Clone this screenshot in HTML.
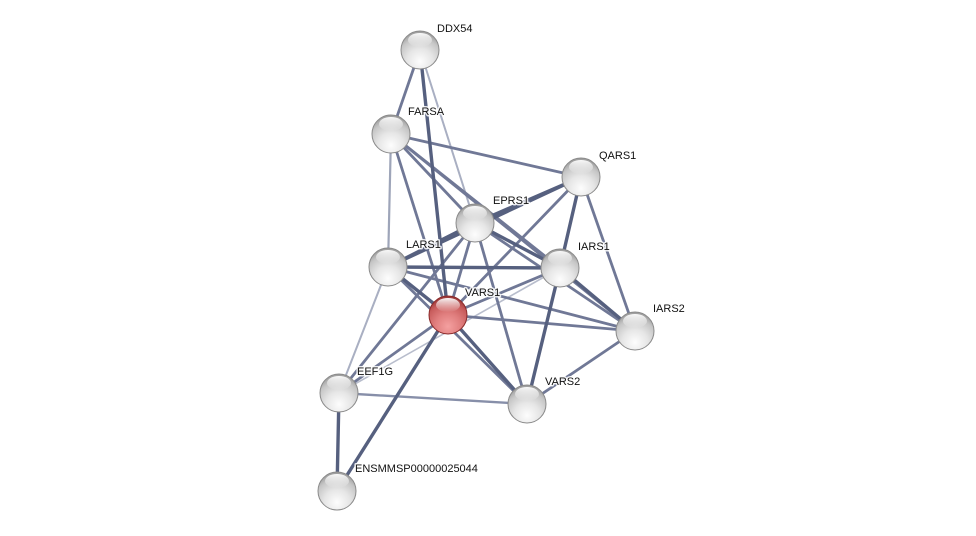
<!DOCTYPE html>
<html><head><meta charset="utf-8"><style>
html,body{margin:0;padding:0;background:#fff;width:976px;height:536px;overflow:hidden}
svg{display:block}
text{font-family:"Liberation Sans",Arial,sans-serif;font-size:11px;fill:#111;paint-order:stroke;stroke:#fff;stroke-width:3px;stroke-opacity:.85;stroke-linejoin:round}
</style></head><body>
<svg width="976" height="536" viewBox="0 0 976 536" xmlns="http://www.w3.org/2000/svg">
<defs>
<radialGradient id="g" cx="50%" cy="80%" r="75%">
<stop offset="0" stop-color="#fdfdfd"/><stop offset="0.45" stop-color="#e6e6e6"/><stop offset="0.8" stop-color="#c6c6c6"/><stop offset="1" stop-color="#a0a0a0"/>
</radialGradient>
<radialGradient id="r" cx="50%" cy="80%" r="75%">
<stop offset="0" stop-color="#f4a0a0"/><stop offset="0.45" stop-color="#e07e7e"/><stop offset="0.8" stop-color="#c85c5c"/><stop offset="1" stop-color="#a03c3c"/>
</radialGradient>
<linearGradient id="h" x1="0" y1="0" x2="0" y2="1">
<stop offset="0" stop-color="#fff" stop-opacity="0.95"/><stop offset="1" stop-color="#fff" stop-opacity="0"/>
</linearGradient>
</defs>
<g stroke-linecap="round">
<g stroke="#a9afc2" stroke-width="2">
<line x1="420" y1="50" x2="475" y2="223"/>
<line x1="388" y1="267" x2="339" y2="393"/>
<line x1="560" y1="268" x2="339" y2="393" stroke="#b8bdcc" stroke-width="1.6"/>
<line x1="391" y1="134" x2="388" y2="267" stroke="#9ea5b9" stroke-width="2.2"/>
</g>
<g stroke="#707896" stroke-width="2.8">
<line x1="420" y1="50" x2="391" y2="134"/>
<line x1="391" y1="134" x2="581" y2="177"/>
<line x1="391" y1="134" x2="448" y2="315"/>
<line x1="391" y1="134" x2="475" y2="223"/>
<line x1="391" y1="134" x2="560" y2="268"/>
<line x1="391" y1="134" x2="635" y2="331"/>
<line x1="581" y1="177" x2="448" y2="315"/>
<line x1="581" y1="177" x2="635" y2="331"/>
<line x1="475" y1="223" x2="448" y2="315"/>
<line x1="475" y1="223" x2="527" y2="404"/>
<line x1="475" y1="223" x2="635" y2="331"/>
<line x1="475" y1="223" x2="339" y2="393"/>
<line x1="560" y1="268" x2="448" y2="315"/>
<line x1="448" y1="315" x2="339" y2="393"/>
<line x1="448" y1="315" x2="635" y2="331"/>
<line x1="388" y1="267" x2="635" y2="331"/>
<line x1="635" y1="331" x2="527" y2="404"/>
<line x1="339" y1="393" x2="527" y2="404" stroke="#878fa9" stroke-width="2.4"/>
<line x1="388" y1="267" x2="527" y2="404"/>
</g>
<g stroke="#56607f" stroke-width="3.4">
<line x1="420" y1="50" x2="448" y2="315"/>
<line x1="581" y1="177" x2="475" y2="223"/>
<line x1="581" y1="177" x2="388" y2="267"/>
<line x1="581" y1="177" x2="560" y2="268"/>
<line x1="388" y1="267" x2="560" y2="268"/>
<line x1="388" y1="267" x2="448" y2="315"/>
<line x1="388" y1="267" x2="475" y2="223"/>
<line x1="475" y1="223" x2="560" y2="268"/>
<line x1="448" y1="315" x2="527" y2="404"/>
<line x1="560" y1="268" x2="527" y2="404"/>
<line x1="560" y1="268" x2="635" y2="331"/>
<line x1="339" y1="393" x2="337" y2="491"/>
<line x1="448" y1="315" x2="337" y2="491"/>
</g>
</g>
<g stroke="#8a8a8a" stroke-width="1">
<circle cx="420" cy="50" r="19" fill="url(#g)"/>
<circle cx="391" cy="134" r="19" fill="url(#g)"/>
<circle cx="581" cy="177" r="19" fill="url(#g)"/>
<circle cx="475" cy="223" r="19" fill="url(#g)"/>
<circle cx="388" cy="267" r="19" fill="url(#g)"/>
<circle cx="560" cy="268" r="19" fill="url(#g)"/>
<circle cx="448" cy="315" r="19" fill="url(#r)" stroke="#8a2a2a"/>
<circle cx="635" cy="331" r="19" fill="url(#g)"/>
<circle cx="339" cy="393" r="19" fill="url(#g)"/>
<circle cx="527" cy="404" r="19" fill="url(#g)"/>
<circle cx="337" cy="491" r="19" fill="url(#g)"/>
</g>
<g fill="url(#h)">
<ellipse cx="420" cy="40" rx="12" ry="7"/>
<ellipse cx="391" cy="124" rx="12" ry="7"/>
<ellipse cx="581" cy="167" rx="12" ry="7"/>
<ellipse cx="475" cy="213" rx="12" ry="7"/>
<ellipse cx="388" cy="257" rx="12" ry="7"/>
<ellipse cx="560" cy="258" rx="12" ry="7"/>
<ellipse cx="448" cy="305" rx="12" ry="7"/>
<ellipse cx="635" cy="321" rx="12" ry="7"/>
<ellipse cx="339" cy="383" rx="12" ry="7"/>
<ellipse cx="527" cy="394" rx="12" ry="7"/>
<ellipse cx="337" cy="481" rx="12" ry="7"/>
</g>
<text x="437" y="32">DDX54</text>
<text x="408" y="115">FARSA</text>
<text x="599" y="159">QARS1</text>
<text x="493" y="204">EPRS1</text>
<text x="406" y="248">LARS1</text>
<text x="578" y="250">IARS1</text>
<text x="465" y="296">VARS1</text>
<text x="653" y="312">IARS2</text>
<text x="357" y="375">EEF1G</text>
<text x="545" y="385">VARS2</text>
<text x="355" y="472">ENSMMSP00000025044</text>
</svg>
</body></html>
